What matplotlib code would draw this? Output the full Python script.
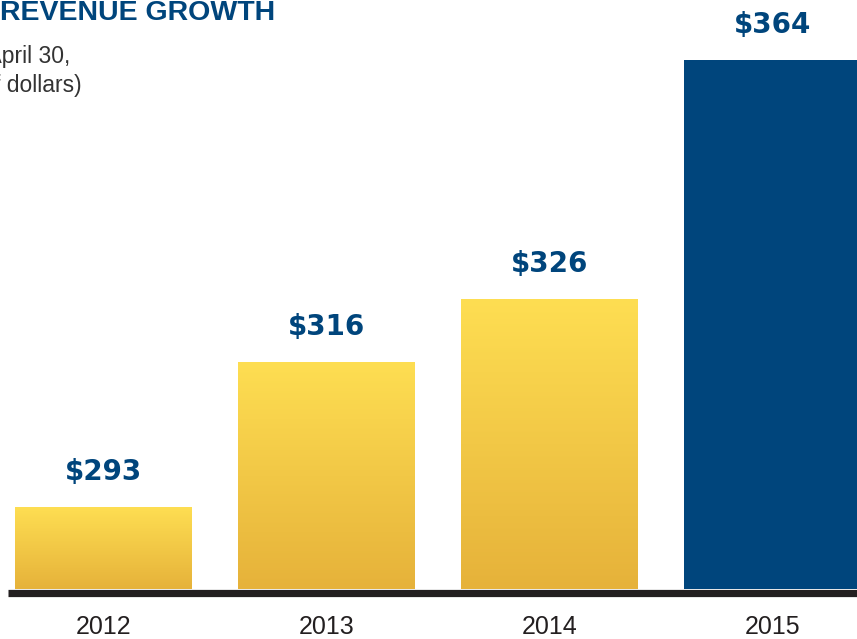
import numpy as np
import matplotlib
matplotlib.use("Agg")
import matplotlib.pyplot as plt
from matplotlib.colors import LinearSegmentedColormap

years = ["2012", "2013", "2014", "2015"]
revenue = [293, 316, 326, 364]
labels = ["$293", "$316", "$326", "$364"]
highlight = [False, False, False, True]

NAVY = "#00457c"
DARK = "#231f20"
grad = LinearSegmentedColormap.from_list("gold", ["#e6b23a", "#fede52"])

W, H = 857, 639
PX = 6.296  # pixels per million
fig = plt.figure(figsize=(W / 100, H / 100), dpi=100)
# axes spans whole width; bottom edge sits on the baseline rule
ax = fig.add_axes([0, 1 - 589 / H, 1, 589 / H])
ax.set_axis_off()

x = np.arange(len(years))
step = 223.0
xlim = (-103.5 / step, (W - 103.5) / step)
ymin = 280.0
ylim = (ymin, ymin + 589 / PX)

bw = 177 / step
gradient = np.linspace(0, 1, 256).reshape(-1, 1)
for xi, v, hl in zip(x, revenue, highlight):
    if hl:
        ax.bar(xi, v - ymin, bw, bottom=ymin, color=NAVY, zorder=2)
    else:
        bar = ax.bar(xi, v - ymin, bw, bottom=ymin, color="none", zorder=2)[0]
        im = ax.imshow(gradient, cmap=grad, aspect="auto", origin="lower",
                       extent=(xi - bw / 2, xi + bw / 2, ymin, v), zorder=2)
        im.set_clip_path(bar)

for xi, v, lab in zip(x, revenue, labels):
    ax.annotate(lab, (xi, v), xytext=(0, 25.5), textcoords="offset points",
                ha="center", va="center", fontsize=20, fontweight="bold",
                color=NAVY, family="DejaVu Sans")

# baseline rule, just under the bars
ax.hlines(ymin - 3.6 / PX, (8 - 103.5) / step, xlim[1], color=DARK, lw=5.2,
          clip_on=False, zorder=3)
ax.set_xlim(*xlim)
ax.set_ylim(*ylim)

for xi, yr in zip(x, years):
    ax.annotate(yr, (xi, ymin), xytext=(0, -27.5), textcoords="offset points",
                ha="center", va="center", fontsize=18, color=DARK,
                family="Liberation Sans", annotation_clip=False)

fig.text(275 / W, 1 - 20 / H, "REVENUE GROWTH", ha="right", va="baseline",
         fontsize=20.5, fontweight="bold", color=NAVY, family="Liberation Sans")
fig.text(70 / W, 1 - 63 / H, "Fiscal years ended April 30,", ha="right",
         va="baseline", fontsize=16.5, color="#333333", family="Liberation Sans")
fig.text(82 / W, 1 - 92 / H, "(in millions of dollars)", ha="right",
         va="baseline", fontsize=16.5, color="#333333", family="Liberation Sans")

fig.savefig("out.png", dpi=100)
